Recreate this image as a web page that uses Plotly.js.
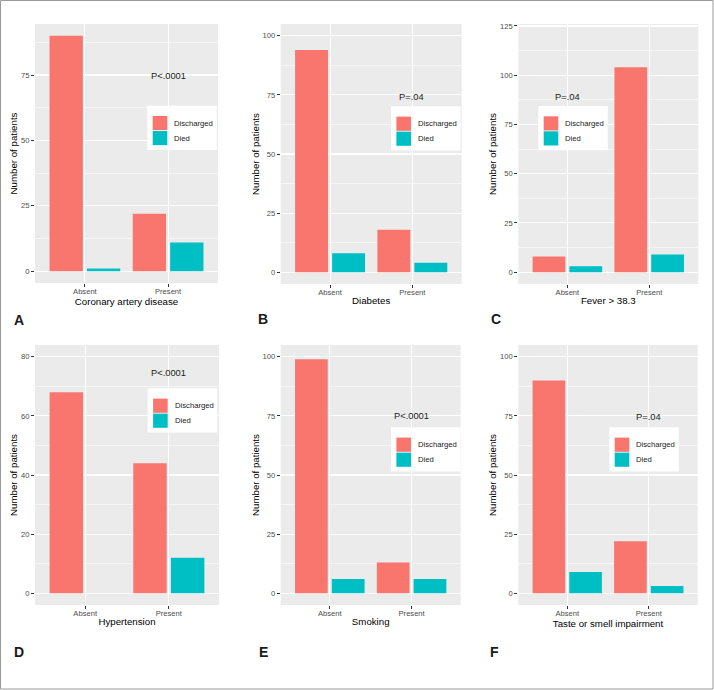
<!DOCTYPE html>
<html>
<head>
<meta charset="utf-8">
<script src="https://cdn.plot.ly/plotly-3.0.1.min.js"></script>
<style>html,body{margin:0;padding:0;background:#fff;}#chart{width:714px;height:690px;}</style>
</head>
<body>
<div id="chart"></div>
<script>
// ---- data ----
const categories = ['Absent', 'Present'];
const seriesNames = ['Discharged', 'Died'];
const panelLetters = ['A', 'B', 'C', 'D', 'E', 'F'];
const xTitles = ['Coronary artery disease', 'Diabetes', 'Fever > 38.3', 'Hypertension', 'Smoking', 'Taste or smell impairment'];
const pValues = ['P<.0001', 'P=.04', 'P=.04', 'P<.0001', 'P<.0001', 'P=.04'];
const dischargedCAD = [90, 22];
const diedCAD = [1, 11];
const dischargedDiabetes = [94, 18];
const diedDiabetes = [8, 4];
const dischargedFever = [8, 104];
const diedFever = [3, 9];
const dischargedHypertension = [68, 44];
const diedHypertension = [0, 12];
const dischargedSmoking = [99, 13];
const diedSmoking = [6, 6];
const dischargedTaste = [90, 22];
const diedTaste = [9, 3];
const yTicksA = [0, 25, 50, 75];
const yTicksB = [0, 25, 50, 75, 100];
const yTicksC = [0, 25, 50, 75, 100, 125];
const yTicksD = [0, 20, 40, 60, 80];
const yTicksE = [0, 25, 50, 75, 100];
const yTicksF = [0, 25, 50, 75, 100];
const yLimits = [[0, 90], [0, 100], [0, 120], [0, 80], [0, 100], [0, 100]];

// ---- layout (pixels) ----
const W = 714, H = 690;
const colors = ['#F8766D', '#00BFC4'];
const FONT = '"Liberation Sans", Arial, Helvetica, sans-serif';
const panelBoxes = [ // [x0, x1, y0(top), y1(bottom)] of the panel background in px
  [35, 218, 24, 283], [280.7, 461.7, 24, 284], [518.3, 698.3, 24, 284],
  [35, 219, 345, 605], [280.7, 460.7, 345, 605], [518.3, 697.7, 345, 605]
];
const legendBoxes = [ // [left, top] of legend box in px
  [147.3, 105.7], [391, 106.3], [538.3, 106], [147.7, 388.3], [391, 427.3], [609.3, 427.3]
];
const pPos = [[168.7, 76], [411.5, 96.7], [567, 96.7], [168.2, 372.7], [411.3, 415.7], [648.3, 417.3]];
const letterPos = [[18.5, 319.5], [262.5, 319.2], [495.5, 319], [19, 652], [263.5, 652.3], [494.5, 652]];

const px = x => x / W;
const py = y => 1 - y / H;
const esc = s => s.replace(/&/g, '&amp;').replace(/</g, '&lt;').replace(/>/g, '&gt;');

const dischargedAll = [dischargedCAD, dischargedDiabetes, dischargedFever, dischargedHypertension, dischargedSmoking, dischargedTaste];
const diedAll = [diedCAD, diedDiabetes, diedFever, diedHypertension, diedSmoking, diedTaste];
const yTicksAll = [yTicksA, yTicksB, yTicksC, yTicksD, yTicksE, yTicksF];

const traces = [];
const layout = {
  width: W, height: H,
  margin: {l: 0, r: 0, t: 0, b: 0},
  paper_bgcolor: '#ffffff',
  plot_bgcolor: '#EBEBEB',
  barmode: 'group',
  bargap: 0.1,
  bargroupgap: 0.111,
  showlegend: false,
  font: {family: FONT, color: '#000'},
  shapes: [],
  annotations: []
};

for (let i = 0; i < 6; i++) {
  const n = i === 0 ? '' : String(i + 1);
  const xa = 'x' + n, ya = 'y' + n;
  const series = [dischargedAll[i], diedAll[i]];
  series.forEach((vals, s) => {
    traces.push({
      type: 'bar', x: categories, y: vals, name: seriesNames[s],
      xaxis: xa, yaxis: ya,
      marker: {color: colors[s], line: {width: 0}},
      hoverinfo: 'x+y+name'
    });
  });
  const b = panelBoxes[i];
  const [lo, hi] = yLimits[i];
  const pad = (hi - lo) * 0.05;
  const ticks = yTicksAll[i];
  const step = ticks[1] - ticks[0];
  layout['xaxis' + n] = {
    domain: [px(b[0]), px(b[1])], anchor: ya,
    type: 'category', range: [-0.6, 1.6],
    showgrid: true, gridcolor: '#ffffff', gridwidth: 1.1,
    zeroline: false, showline: false,
    ticks: 'outside', ticklen: 3, tickwidth: 1, tickcolor: '#333333',
    ticklabelstandoff: -2,
    tickfont: {size: 7.6, color: '#4D4D4D', family: FONT},
    title: {text: esc(xTitles[i]), font: {size: 9.7, color: '#000', family: FONT}, standoff: 1},
    fixedrange: true
  };
  layout['yaxis' + n] = {
    domain: [py(b[3]), py(b[2])], anchor: xa,
    range: [lo - pad, hi + pad],
    tickmode: 'array', tickvals: ticks, ticktext: ticks.map(String),
    showgrid: true, gridcolor: '#ffffff', gridwidth: 1.1,
    minor: {tickmode: 'linear', tick0: 0, dtick: step / 2, showgrid: true, gridcolor: '#ffffff', gridwidth: 0.5, ticks: ''},
    zeroline: false, showline: false,
    ticks: 'outside', ticklen: 3, tickwidth: 1, tickcolor: '#333333',
    tickfont: {size: 7.6, color: '#4D4D4D', family: FONT},
    title: {text: 'Number of patients', font: {size: 9.7, color: '#000', family: FONT}, standoff: 1},
    fixedrange: true
  };

  // legend box (drawn as shapes + text)
  const [lx, ly] = legendBoxes[i];
  layout.shapes.push({type: 'rect', xref: 'paper', yref: 'paper', x0: px(lx), x1: px(lx + 69.5), y0: py(ly + 44.3), y1: py(ly), fillcolor: '#ffffff', line: {width: 0}, layer: 'above'});
  seriesNames.forEach((name, s) => {
    const top = ly + 10.3 + s * 15;
    layout.shapes.push({type: 'rect', xref: 'paper', yref: 'paper', x0: px(lx + 5.4), x1: px(lx + 20), y0: py(top + 14.2), y1: py(top), fillcolor: colors[s], line: {width: 0}, layer: 'above'});
    layout.annotations.push({xref: 'paper', yref: 'paper', x: px(lx + 25), y: py(top + 7.3), xanchor: 'left', yanchor: 'middle', text: name, showarrow: false, font: {size: 7.7, color: '#1A1A1A', family: FONT}});
  });
  // p value
  layout.annotations.push({xref: 'paper', yref: 'paper', x: px(pPos[i][0]), y: py(pPos[i][1]), xanchor: 'center', yanchor: 'middle', text: esc(pValues[i]), showarrow: false, font: {size: 9.3, color: '#1A1A1A', family: FONT}});
  // panel letter
  layout.annotations.push({xref: 'paper', yref: 'paper', x: px(letterPos[i][0]), y: py(letterPos[i][1]), xanchor: 'center', yanchor: 'middle', text: '<b>' + panelLetters[i] + '</b>', showarrow: false, font: {size: 14, color: '#1A1A1A', family: FONT}});
}
// outer frame
layout.shapes.push({type: 'rect', xref: 'paper', yref: 'paper', x0: px(0.5), x1: px(713), y0: py(689), y1: py(0.5), fillcolor: 'rgba(0,0,0,0)', line: {color: '#9A9A9A', width: 1}, layer: 'above'});

Plotly.newPlot('chart', traces, layout, {staticPlot: true, displayModeBar: false});
</script>
</body>
</html>
